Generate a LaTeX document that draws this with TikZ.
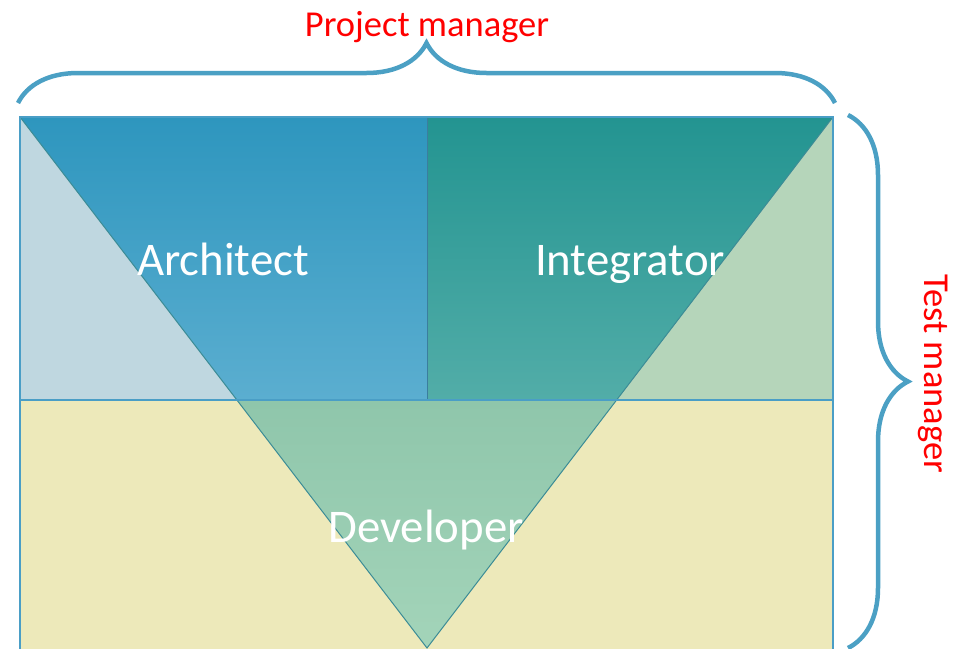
\documentclass[tikz,border=0pt]{standalone}
\usepackage{fontspec}
\setmainfont{Carlito}
\usetikzlibrary{calc,decorations.pathreplacing}
\definecolor{pgrey}{RGB}{191,215,224}
\definecolor{pgreen}{RGB}{181,213,186}
\definecolor{pyellow}{RGB}{237,233,186}
\definecolor{archtop}{RGB}{46,150,190}
\definecolor{archbot}{RGB}{91,174,208}
\definecolor{inttop}{RGB}{35,148,145}
\definecolor{intbot}{RGB}{82,173,168}
\definecolor{devtop}{RGB}{143,198,171}
\definecolor{devbot}{RGB}{163,212,185}
\definecolor{pframe}{RGB}{74,158,198}
\definecolor{pedge}{RGB}{60,140,150}
\definecolor{pbrace}{RGB}{75,160,196}

\begin{document}
\begin{tikzpicture}[x=1pt,y=-1pt,
    role/.style={text=white, font=\fontsize{46.8}{50}\selectfont, inner sep=0pt, anchor=base},
    manager/.style={text=red, font=\fontsize{36.5}{40}\selectfont, inner sep=0pt, anchor=base},
    bracebar/.style={decorate, decoration={brace, amplitude=60pt}, draw=pbrace, line width=4.5pt},
    frame/.style={draw=pframe, line width=1.8pt},
    edge/.style={draw=pedge, line width=1pt}]
    \useasboundingbox (0,0) rectangle (953,648);

    \coordinate (tl) at (20,117);
    \coordinate (tr) at (833,117);
    \coordinate (ml) at (20,400);
    \coordinate (mr) at (833,400);
    \coordinate (bl) at (20,652);
    \coordinate (br) at (833,652);
    \coordinate (tm) at (427,117);
    \coordinate (mid) at (427,400);
    \coordinate (apex) at (427,648);
    \coordinate (cutL) at ($(tl)!0.533!(apex)$);
    \coordinate (cutR) at ($(tr)!0.533!(apex)$);

    % background bands
    \fill[pgrey] (tl) rectangle (mid);
    \fill[pgreen] (tm) rectangle (mr);
    \fill[pyellow] (ml) rectangle (br);

    % the three roles
    \shade[top color=archtop, bottom color=archbot] (tl) -- (tm) -- (mid) -- (cutL) -- cycle;
    \shade[top color=inttop, bottom color=intbot] (tm) -- (tr) -- (cutR) -- (mid) -- cycle;
    \shade[top color=devtop, bottom color=devbot] (cutL) -- (cutR) -- (apex) -- cycle;

    \draw[edge] (tl) -- (apex) -- (tr);
    \draw[draw=pframe!80!black, line width=0.8pt] (tm) -- (mid);
    \draw[frame] (bl) -- (tl) -- (tr) -- (br);
    \draw[frame] (ml) -- (mr);

    \node[role] (architect) at (223,275) {Architect};
    \node[role] (integrator) at (630,275) {Integrator};
    \node[role] (developer) at (426,542) {Developer};

    % managers
    \draw[bracebar] ($(tl)+(-2,-14)$) -- ($(tr)+(2,-14)$);
    \draw[bracebar] ($(tr)+(15,-2)$) -- ($(br)+(15,-4)$);

    \node[manager] (projectManager) at (427,36) {Project manager};
    \node[manager, rotate=-90] (testManager) at (924,374) {Test manager};
\end{tikzpicture}
\end{document}
